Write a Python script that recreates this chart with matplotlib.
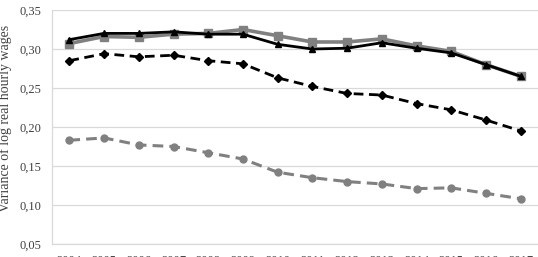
import matplotlib
matplotlib.use("Agg")
import matplotlib.pyplot as plt
from matplotlib.ticker import FuncFormatter

years = [str(y) for y in range(2004, 2018)]
black_solid = [0.312, 0.320, 0.320, 0.322, 0.319, 0.319, 0.306, 0.300, 0.301, 0.308, 0.301, 0.295, 0.280, 0.265]
gray_solid = [0.307, 0.316, 0.315, 0.319, 0.320, 0.325, 0.317, 0.309, 0.309, 0.313, 0.304, 0.297, 0.280, 0.265]
black_dashed = [0.285, 0.294, 0.290, 0.292, 0.285, 0.281, 0.263, 0.252, 0.243, 0.241, 0.230, 0.222, 0.209, 0.195]
gray_dashed = [0.183, 0.186, 0.177, 0.175, 0.167, 0.159, 0.142, 0.135, 0.130, 0.127, 0.121, 0.122, 0.115, 0.108]
yticks = [0.05, 0.10, 0.15, 0.20, 0.25, 0.30, 0.35]

plt.rcParams['font.family'] = ['Liberation Serif', 'DejaVu Serif']

fig = plt.figure(figsize=(5.38, 2.57), dpi=100)
ax = fig.add_axes([52/538, 13/257, 486/538, 234/257])

x = list(range(len(years)))
gray = '#808080'
ax.plot(x, gray_dashed, color=gray, lw=2.2, ls=(0, (3.5, 2)), marker='o', ms=5, zorder=3)
ax.plot(x, black_dashed, color='black', lw=2.0, ls=(0, (3.5, 2)), marker='D', ms=4, zorder=3)
ax.plot(x, gray_solid, color=gray, lw=2.6, marker='s', ms=5.5, zorder=3)
ax.plot(x, black_solid, color='black', lw=2.0, marker='^', ms=4.5, zorder=4)

ax.set_xlim(-0.5, len(years) - 0.5)
ax.set_ylim(0.05, 0.35)
ax.set_yticks(yticks)
ax.yaxis.set_major_formatter(FuncFormatter(lambda v, p: f"{v:.2f}".replace('.', ',')))
ax.set_xticks(x)
ax.set_xticklabels(years)
ax.tick_params(axis='both', length=0, labelsize=9, colors='#404040')
ax.tick_params(axis='y', pad=8)
ax.tick_params(axis='x', pad=8)
ax.grid(axis='y', color='#d9d9d9', lw=0.9)
ax.set_axisbelow(True)
for s in ['top', 'right']:
    ax.spines[s].set_visible(False)
for s in ['left', 'bottom']:
    ax.spines[s].set_color('#d9d9d9')
    ax.spines[s].set_linewidth(0.9)

fig.text(5/538, 139/257, 'Variance of log real hourly wages', rotation=90,
         ha='center', va='center', fontsize=10, color='#404040')

fig.savefig('out.png', dpi=100)
